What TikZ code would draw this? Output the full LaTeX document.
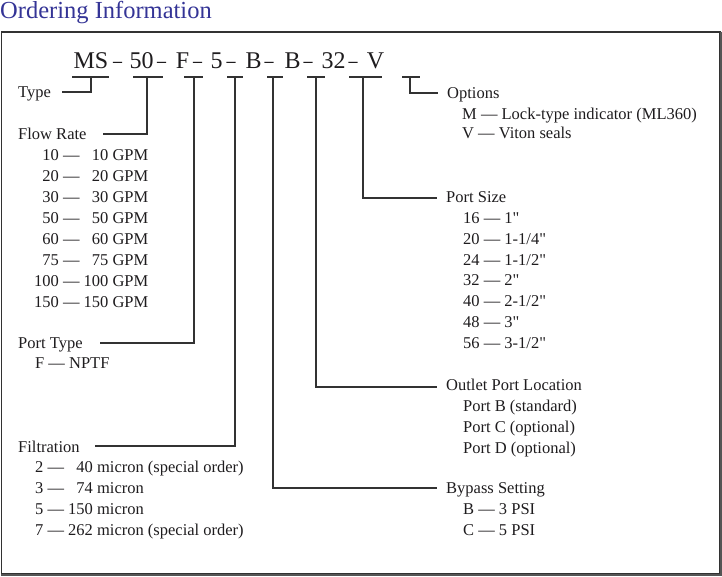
\documentclass[tikz,border=0pt]{standalone}
\usepackage{graphicx}
\usepackage{fontspec}
\setmainfont{Liberation Serif}
\newfontfamily\plainserif{Liberation Serif}
\newcommand{\inchmark}{{\plainserif"}}
\newcommand{\codedash}{\scalebox{0.75}[1]{–}}
\definecolor{titleblue}{RGB}{52,52,150}
\definecolor{ink}{RGB}{30,28,30}
\definecolor{rulec}{RGB}{50,50,50}
\definecolor{framec}{RGB}{85,85,85}
\begin{document}
\begin{tikzpicture}[x=1pt,y=-1pt,
  lbl/.style={anchor=base west,inner sep=0pt,font=\fontsize{16.5}{18}\selectfont,text=ink},
  code/.style={anchor=base,inner sep=0pt,font=\fontsize{24}{28}\selectfont,text=ink},
  conn/.style={draw=rulec,line width=1.2pt},
  bar/.style={draw=rulec,line width=1.2pt}]
\useasboundingbox (0,0) rectangle (722,576);
% title
\node[anchor=base west,inner sep=0pt,font=\fontsize{24.5}{27}\selectfont,text=titleblue] (title) at (0,18.5) {Ordering Information};
% frame
\draw[rulec,line width=1.2pt] (1.5,32) rectangle (720,574);
\draw[framec,line width=2.2pt] (720.8,31.5) -- (720.8,575) -- (0.5,575);
% code
\node[code] (cMS) at (91,68) {MS};
\node[code] (d1) at (117.5,68) {\codedash};
\node[code] (c50) at (141.5,68) {50};
\node[code] (d2) at (161.5,68) {\codedash};
\node[code] (cF) at (182.5,68) {F};
\node[code] (d3) at (197.5,68) {\codedash};
\node[code] (c5) at (216.5,68) {5};
\node[code] (d4) at (231,68) {\codedash};
\node[code] (cB1) at (253.5,68) {B};
\node[code] (d5) at (269,68) {\codedash};
\node[code] (cB2) at (292.5,68) {B};
\node[code] (d6) at (308,68) {\codedash};
\node[code] (c32) at (333.5,68) {32};
\node[code] (d7) at (353,68) {\codedash};
\node[code] (cV) at (375.5,68) {V};
% labels left
\node[lbl] (type) at (18,97.5) {Type};
\node[lbl] (flow) at (18,139.5) {Flow Rate};
\node[lbl] (f1) at (34,160.5) {\hphantom{0}10 — \hphantom{0}10 GPM};
\node[lbl] (f2) at (34,181.5) {\hphantom{0}20 — \hphantom{0}20 GPM};
\node[lbl] (f3) at (34,202.5) {\hphantom{0}30 — \hphantom{0}30 GPM};
\node[lbl] (f4) at (34,223.5) {\hphantom{0}50 — \hphantom{0}50 GPM};
\node[lbl] (f5) at (34,244.5) {\hphantom{0}60 — \hphantom{0}60 GPM};
\node[lbl] (f6) at (34,265.5) {\hphantom{0}75 — \hphantom{0}75 GPM};
\node[lbl] (f7) at (34,286.5) {100 — 100 GPM};
\node[lbl] (f8) at (34,307) {150 — 150 GPM};
\node[lbl] (ptype) at (18,348.5) {Port Type};
\node[lbl] (pt1) at (35,368.5) {F — NPTF};
\node[lbl] (filt) at (18,452) {Filtration};
\node[lbl] (fi1) at (35,472.5) {2 — \hphantom{0}40 micron (special order)};
\node[lbl] (fi2) at (35,493.5) {3 — \hphantom{0}74 micron};
\node[lbl] (fi3) at (35,514.5) {5 — 150 micron};
\node[lbl] (fi4) at (35,535.5) {7 — 262 micron (special order)};
% labels right
\node[lbl] (opt) at (447,98.5) {Options};
\node[lbl] (o1) at (462,119.5) {M — Lock-type indicator (ML360)};
\node[lbl] (o2) at (462,138.5) {V — Viton seals};
\node[lbl] (psize) at (446,202.5) {Port Size};
\node[lbl] (ps1) at (463,223.5) {16 — 1\inchmark};
\node[lbl] (ps2) at (463,244.3) {20 — 1-1/4\inchmark};
\node[lbl] (ps3) at (463,265.1) {24 — 1-1/2\inchmark};
\node[lbl] (ps4) at (463,285.9) {32 — 2\inchmark};
\node[lbl] (ps5) at (463,306.7) {40 — 2-1/2\inchmark};
\node[lbl] (ps6) at (463,327.5) {48 — 3\inchmark};
\node[lbl] (ps7) at (463,348.3) {56 — 3-1/2\inchmark};
\node[lbl] (outl) at (446,390.5) {Outlet Port Location};
\node[lbl] (ol1) at (463,411.5) {Port B (standard)};
\node[lbl] (ol2) at (463,432.3) {Port C (optional)};
\node[lbl] (ol3) at (463,453) {Port D (optional)};
\node[lbl] (byp) at (446,493.5) {Bypass Setting};
\node[lbl] (bp1) at (463,514.5) {B — 3 PSI};
\node[lbl] (bp2) at (463,535.5) {C — 5 PSI};
% bar coordinates
\coordinate (b1l) at (72,77);  \coordinate (b1r) at (109,77); \coordinate (s1) at (91,77);  \coordinate (e1) at (62,92);
\coordinate (b2l) at (133,77); \coordinate (b2r) at (163,77); \coordinate (s2) at (147,77); \coordinate (e2) at (103,134);
\coordinate (b3l) at (184,77); \coordinate (b3r) at (203,77); \coordinate (s3) at (194,77); \coordinate (e3) at (100,343);
\coordinate (b4l) at (227,77); \coordinate (b4r) at (243,77); \coordinate (s4) at (235,77); \coordinate (e4) at (95,446);
\coordinate (b5l) at (267,77); \coordinate (b5r) at (283,77); \coordinate (s5) at (273,77); \coordinate (e5) at (437,488);
\coordinate (b6l) at (307,77); \coordinate (b6r) at (325,77); \coordinate (s6) at (316,77); \coordinate (e6) at (437,387);
\coordinate (b7l) at (349,77); \coordinate (b7r) at (382,77); \coordinate (s7) at (363,77); \coordinate (e7) at (437,198);
\coordinate (b8l) at (402,77); \coordinate (b8r) at (420,77); \coordinate (s8) at (410,77); \coordinate (e8) at (438,93);
\foreach \i in {1,...,8} {\draw[bar] (b\i l) -- (b\i r); \draw[conn] (s\i) |- (e\i);}
\end{tikzpicture}
\end{document}
